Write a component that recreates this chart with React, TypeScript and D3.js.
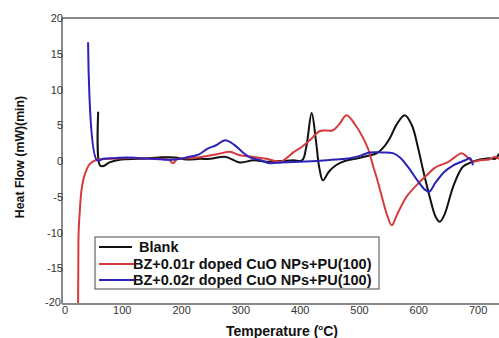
import React from "react";
import * as d3 from "d3";

// DSC traces: temperature (°C) and heat flow (mW)(min)
const blankT = [61, 64, 70, 80, 100, 130, 165, 190, 210, 233, 250, 275, 300, 323, 345, 370, 390, 405, 412, 421, 428, 434, 440, 450, 462, 477, 495, 515, 531, 545, 553, 565, 578, 590, 600, 609, 620, 630, 637, 645, 660, 676, 690, 705, 720, 730, 737];
const blankV = [6.9, -0.6, -0.7, -0.2, 0.2, 0.3, 0.5, 0.5, 0.2, 0.3, 0.3, 0.6, -0.2, 0.1, -0.1, 0.0, 0.1, 0.1, 2.0, 6.7, 3.0, -1.0, -2.7, -1.5, -0.6, 0.0, 0.3, 0.7, 1.1, 2.2, 3.2, 5.2, 6.4, 5.0, 2.0, -1.3, -5.0, -7.8, -8.5, -7.5, -3.5, -0.8, -0.2, 0.2, 0.4, 0.3, 1.0];

const dopedOneT = [27, 27.5, 28, 30, 33, 38, 47, 60, 80, 100, 130, 160, 180, 187, 195, 220, 245, 265, 283, 300, 320, 345, 368, 380, 390, 405, 418, 435, 457, 468, 480, 495, 508, 517, 525, 533, 541, 548, 556, 565, 581, 600, 615, 628, 637, 650, 662, 674, 684, 693, 705, 720, 730, 737];
const dopedOneV = [-22, -15, -10, -7, -4, -2, -0.4, 0.2, 0.3, 0.4, 0.4, 0.3, 0.2, -0.3, 0.3, 0.4, 0.7, 1.0, 1.3, 0.8, 0.6, 0.3, -0.1, 0.5, 1.2, 2.0, 2.9, 4.2, 4.3, 5.2, 6.4, 5.0, 3.2, 1.5, -0.8, -3.0, -5.5, -7.5, -9.0, -7.5, -5.0, -3.2, -2.0, -1.0, -0.6, -0.2, 0.5, 1.1, 0.5, -0.1, 0.1, 0.2, 0.6, 0.3];

const dopedTwoT = [44, 59, 70, 90, 110, 130, 150, 170, 190, 210, 230, 245, 260, 275, 290, 305, 317, 335, 350, 370, 400, 430, 460, 486, 505, 519, 540, 558, 570, 585, 600, 612, 619, 630, 645, 660, 680, 688, 693];
const dopedTwoV = [16.6, 0.1, 0.3, 0.4, 0.5, 0.4, 0.3, 0.2, 0.2, 0.5, 0.9, 1.7, 2.2, 2.9, 2.3, 1.2, 0.5, 0.1, -0.3, -0.2, -0.1, 0.0, 0.2, 0.4, 0.8, 1.2, 1.2, 1.1, 0.5, -1.0, -2.8, -4.0, -4.3, -3.0, -1.5, -0.6, 0.1, 0.4, -0.6];

const seriesNames = ["Blank", "BZ+0.01r doped CuO NPs+PU(100)", "BZ+0.02r doped CuO NPs+PU(100)"];
const seriesColors = ["#111111", "#d63a3c", "#2a22b8"];

const xTicks = [0, 100, 200, 300, 400, 500, 600, 700];
const yTicks = [-20, -15, -10, -5, 0, 5, 10, 15, 20];

const W = 499;
const H = 338;
const left = 62;
const top = 18;
const bottom = 304;

export default function App() {
  const x = d3.scaleLinear().domain([0, 750]).range([left, left + 0.593 * 750]);
  const y = d3.scaleLinear().domain([-20, 20]).range([bottom, top]);

  const series = [
    { t: blankT, v: blankV },
    { t: dopedOneT, v: dopedOneV },
    { t: dopedTwoT, v: dopedTwoV },
  ];

  const line = d3
    .line<[number, number]>()
    .x((d) => x(d[0]))
    .y((d) => y(d[1]))
    .curve(d3.curveCatmullRom.alpha(0.5));

  const font = "'Liberation Sans', Arial, sans-serif";
  const legendRows = [247, 264, 280];

  return (
    <div style={{ position: "absolute", left: 0, top: 0 }}>
      <svg width={W} height={H} style={{ display: "block", background: "#fff" }}>
        <defs>
          <clipPath id="plot">
            <rect x={left} y={top} width={W - left} height={bottom - top} />
          </clipPath>
        </defs>

        {/* traces */}
        <g clipPath="url(#plot)" fill="none" strokeWidth={2} strokeLinejoin="round">
          {series.map((s, i) => (
            <path
              key={i}
              d={line(s.t.map((t, j) => [t, s.v[j]] as [number, number])) || ""}
              stroke={seriesColors[i]}
            />
          ))}
        </g>

        {/* frame */}
        <line x1={left} x2={W} y1={top} y2={top} stroke="#8a8a8a" strokeWidth={2} />
        <line x1={left} x2={left} y1={top} y2={bottom} stroke="#8a8a8a" strokeWidth={2} />
        <line x1={left} x2={W} y1={bottom} y2={bottom} stroke="#8a8a8a" strokeWidth={2} />

        {/* y tick labels */}
        <g fontFamily={font} fontSize={11} fill="#333" textAnchor="end">
          {yTicks.map((v) => (
            <text key={v} x={v === -20 ? left - 1 : left + 1} y={y(v) + (v === -20 ? 2 : 4)}>
              {v}
            </text>
          ))}
        </g>

        {/* x tick labels */}
        <g fontFamily={font} fontSize={11} fill="#333" textAnchor="middle">
          {xTicks.map((t) => (
            <text key={t} x={x(t) + (t === 0 ? 3 : 1)} y={314}>
              {t}
            </text>
          ))}
        </g>

        {/* axis titles */}
        <text
          transform={`translate(24,157) rotate(-90)`}
          textAnchor="middle"
          fontFamily={font}
          fontSize={12.3}
          fontWeight="bold"
          fill="#111"
        >
          Heat Flow (mW)(min)
        </text>
        <text x={282} y={336} textAnchor="middle" fontFamily={font} fontSize={14} fontWeight="bold" fill="#111">
          Temperature (
          <tspan fontSize={8} dy={-6}>o</tspan>
          <tspan dy={6}>C)</tspan>
        </text>

        {/* legend */}
        <rect x={95} y={237} width={284} height={52} fill="#fff" stroke="#666" strokeWidth={1.2} />
        {seriesNames.map((name, i) => (
          <g key={name}>
            <line
              x1={99}
              x2={i === 0 ? 132 : 134}
              y1={legendRows[i]}
              y2={legendRows[i]}
              stroke={seriesColors[i]}
              strokeWidth={2}
            />
            <text
              x={i === 0 ? 139 : 133}
              y={legendRows[i] + 5}
              fontFamily={font}
              fontSize={14.5}
              fontWeight="bold"
              fill="#111"
            >
              {name}
            </text>
          </g>
        ))}
      </svg>
    </div>
  );
}
